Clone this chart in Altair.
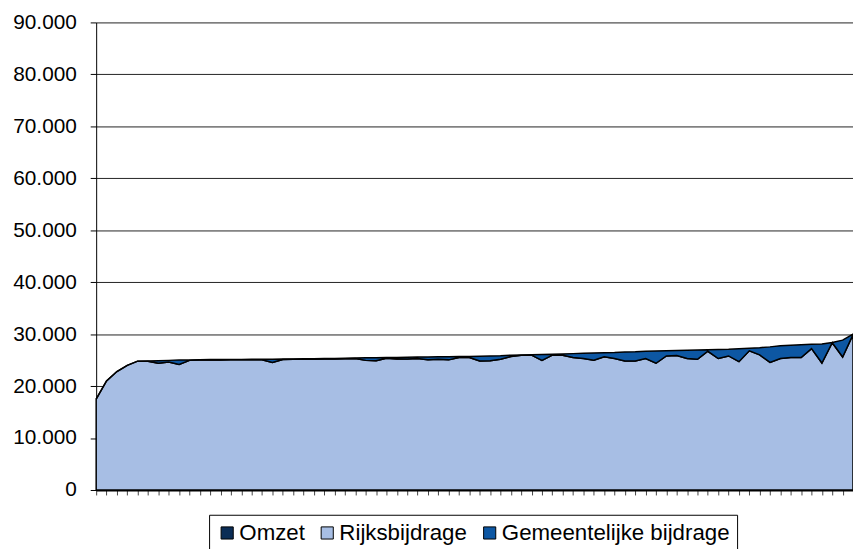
import altair as alt
import pandas as pd

series = ["Omzet", "Rijksbijdrage", "Gemeentelijke bijdrage"]
colors = ["#0B2D55", "#A7BEE4", "#0D57A3"]

periods = list(range(74))
y_ticks = [0, 10000, 20000, 30000, 40000, 50000, 60000, 70000, 80000, 90000]

omzet = [0, 0, 0, 0, 0, 0, 0, 0, 0, 0,
         0, 0, 0, 0, 0, 0, 0, 0, 0, 0,
         0, 0, 0, 0, 0, 0, 0, 0, 0, 0,
         0, 0, 0, 0, 0, 0, 0, 0, 0, 0,
         0, 0, 0, 0, 0, 0, 0, 0, 0, 0,
         0, 0, 0, 0, 0, 0, 0, 0, 0, 0,
         0, 0, 0, 0, 0, 0, 0, 0, 0, 0,
         0, 0, 0, 0]

rijks = [17500, 21000, 22800, 24000, 24800, 24800, 24400, 24650, 24150, 24950,
         25000, 25000, 25000, 25050, 25050, 25050, 25050, 24550, 25100, 25150,
         25150, 25150, 25200, 25200, 25250, 25300, 24950, 24900, 25350, 25200,
         25200, 25300, 25050, 25150, 25050, 25500, 25500, 24850, 24900, 25150,
         25700, 25950, 25950, 24950, 25950, 25950, 25500, 25300, 25000, 25650,
         25300, 24850, 24850, 25300, 24400, 25800, 25900, 25300, 25150, 26700,
         25300, 25800, 24700, 26800, 26000, 24550, 25300, 25500, 25500, 27200,
         24450, 28350, 25600, 29900]

gemeente = [0, 0, 0, 0, 0, 50, 500, 300, 850, 50,
            50, 100, 100, 50, 50, 100, 100, 600, 100, 50,
            100, 100, 100, 100, 100, 100, 500, 550, 150, 300,
            350, 300, 550, 500, 600, 200, 200, 900, 900, 700,
            250, 50, 100, 1150, 200, 250, 750, 1000, 1350, 750,
            1150, 1700, 1750, 1400, 2350, 1000, 950, 1600, 1800, 300,
            1750, 1300, 2500, 500, 1400, 3000, 2450, 2350, 2450, 850,
            3650, 50, 3250, 100]

rows = []
for i, p in enumerate(periods):
    for order_idx, (name, vals) in enumerate(zip(series, [omzet, rijks, gemeente])):
        rows.append({"periode": p, "reeks": name, "orde": order_idx, "waarde": vals[i]})
df = pd.DataFrame(rows)

FONT = "Liberation Sans"

chart = alt.Chart(df).mark_area(
    stroke="black", strokeWidth=1.5, opacity=1, interpolate="linear"
).encode(
    x=alt.X(
        "periode:Q",
        scale=alt.Scale(domain=[0, 73], nice=False, zero=False),
        axis=alt.Axis(
            values=periods, labels=False, title=None, grid=False,
            domainColor="black", domainWidth=2,
            tickColor="#444", tickSize=5, tickWidth=1,
        ),
    ),
    y=alt.Y(
        "waarde:Q",
        stack="zero",
        scale=alt.Scale(domain=[0, 90000], nice=False),
        axis=alt.Axis(
            values=y_ticks, title=None,
            labelExpr="replace(format(datum.value, ',d'), ',', '.')",
            labelFontSize=21, labelFont=FONT, labelColor="black",
            tickSize=6, tickColor="black", labelPadding=14,
            domainColor="black", domainWidth=1,
            grid=True, gridColor="#222", gridWidth=1,
        ),
    ),
    color=alt.Color(
        "reeks:N",
        scale=alt.Scale(domain=series, range=colors),
        legend=alt.Legend(
            title=None, orient="none", legendX=114, legendY=497,
            direction="horizontal", strokeColor="black", padding=7,
            symbolType="square", symbolSize=150,
            symbolStrokeColor="black", symbolStrokeWidth=1, symbolOpacity=1,
            labelFontSize=22.5, labelFont=FONT, labelColor="black",
            labelOffset=1, columnPadding=11, labelLimit=0,
        ),
    ),
    order=alt.Order("orde:Q", sort="ascending"),
).properties(
    width=764, height=472,
    autosize=alt.AutoSizeParams(type="none"),
    padding={"left": 89, "top": 12, "right": 0, "bottom": 57},
    background="white",
).configure_view(stroke=None)

chart.save("out.html", embed_options={"renderer": "svg", "actions": False})
